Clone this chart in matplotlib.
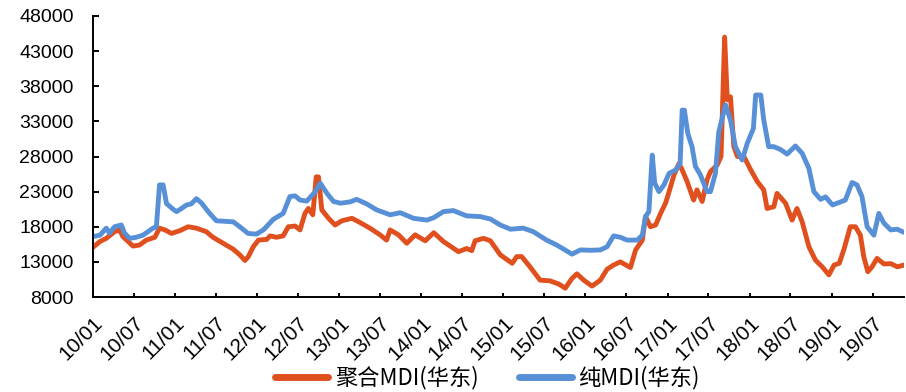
import pandas as pd
import matplotlib.pyplot as plt
import matplotlib.dates as mdates

plt.rcParams['font.family'] = ['Liberation Sans', 'Noto Sans CJK SC', 'DejaVu Sans']

# 聚合MDI(华东) 价格, 元/吨
poly_dates = [
    '2010-01-02', '2010-02-01', '2010-03-01', '2010-04-07', '2010-04-29', '2010-05-14',
    '2010-06-06', '2010-06-28', '2010-07-27', '2010-08-26', '2010-10-03', '2010-10-24',
    '2010-11-17', '2010-12-16', '2011-01-23', '2011-02-28', '2011-04-06', '2011-05-20',
    '2011-06-19', '2011-08-03', '2011-09-17', '2011-10-16', '2011-11-08', '2011-11-23',
    '2011-12-15', '2012-01-07', '2012-02-13', '2012-02-28', '2012-03-27', '2012-04-26',
    '2012-05-19', '2012-06-18', '2012-07-10', '2012-08-01', '2012-08-16', '2012-09-05',
    '2012-09-20', '2012-09-30', '2012-10-15', '2012-11-14', '2012-12-13', '2013-01-12',
    '2013-02-26', '2013-04-03', '2013-05-17', '2013-07-01', '2013-07-30', '2013-08-15',
    '2013-09-21', '2013-10-28', '2013-12-04', '2014-01-18', '2014-02-25', '2014-04-09',
    '2014-06-15', '2014-07-21', '2014-08-13', '2014-08-28', '2014-10-04', '2014-11-04',
    '2014-12-18', '2015-02-09', '2015-03-01', '2015-03-23', '2015-04-29', '2015-06-13',
    '2015-07-27', '2015-09-04', '2015-10-03', '2015-11-02', '2015-11-24', '2015-12-24',
    '2016-01-30', '2016-03-07', '2016-04-06', '2016-05-05', '2016-06-04', '2016-07-19',
    '2016-08-11', '2016-09-10', '2016-09-24', '2016-10-16', '2016-11-08', '2016-11-30',
    '2016-12-22', '2017-01-07', '2017-01-29', '2017-02-20', '2017-03-06', '2017-03-28',
    '2017-04-26', '2017-05-11', '2017-06-03', '2017-06-25', '2017-07-10', '2017-08-09',
    '2017-08-26', '2017-09-11', '2017-09-23', '2017-10-07', '2017-10-22', '2017-11-07',
    '2017-12-06', '2018-01-05', '2018-02-04', '2018-03-04', '2018-03-19', '2018-04-18',
    '2018-05-02', '2018-06-09', '2018-07-08', '2018-07-30', '2018-08-22', '2018-09-21',
    '2018-10-20', '2018-11-19', '2018-12-19', '2019-01-11', '2019-02-03', '2019-02-25',
    '2019-03-24', '2019-04-16', '2019-05-08', '2019-05-23', '2019-06-10', '2019-06-29',
    '2019-07-21', '2019-08-21', '2019-09-20', '2019-10-19', '2019-11-18',
]
poly_price = [
    15100, 15900, 16350, 17300, 17550, 16600,
    15900, 15250, 15400, 16100, 16500, 17800,
    17550, 17050, 17450, 18000, 17800, 17300,
    16500, 15650, 14800, 14000, 13200, 13750,
    15150, 16100, 16200, 16700, 16500, 16700,
    18000, 18100, 17550, 19900, 20600, 19700,
    25100, 25100, 20400, 19200, 18250, 18850,
    19200, 18600, 17800, 16850, 16100, 17550,
    16850, 15650, 16850, 16000, 17150, 15900,
    14450, 14900, 14600, 16000, 16350, 16000,
    14000, 12800, 13750, 13750, 12300, 10400,
    10300, 9850, 9250, 10650, 11300, 10400,
    9550, 10400, 11950, 12550, 13000, 12200,
    14700, 16100, 19450, 18000, 18250, 19900,
    21350, 23000, 25400, 27000, 26100, 24450,
    21800, 23250, 21600, 24700, 25850, 26800,
    28000, 45000, 36050, 36500, 29400, 28000,
    28000, 26100, 24400, 23250, 20600, 20850,
    22750, 21350, 18950, 20600, 18700, 15150,
    13250, 12300, 11150, 12550, 12800, 14900,
    18000, 18000, 16800, 13750, 11600, 12300,
    13500, 12700, 12750, 12300, 12550,
]

# 纯MDI(华东) 价格, 元/吨
pure_dates = [
    '2010-01-02', '2010-02-01', '2010-03-01', '2010-03-15', '2010-04-07', '2010-05-07',
    '2010-05-21', '2010-06-13', '2010-07-12', '2010-08-11', '2010-09-25', '2010-10-10',
    '2010-10-24', '2010-11-09', '2010-11-24', '2010-12-23', '2011-01-08', '2011-01-30',
    '2011-02-21', '2011-03-14', '2011-04-06', '2011-04-28', '2011-06-04', '2011-07-04',
    '2011-09-17', '2011-10-16', '2011-11-22', '2011-12-29', '2012-01-29', '2012-03-13',
    '2012-04-26', '2012-05-26', '2012-06-18', '2012-07-10', '2012-08-09', '2012-09-16',
    '2012-10-08', '2012-11-07', '2012-12-06', '2013-01-06', '2013-02-19', '2013-03-19',
    '2013-05-03', '2013-06-16', '2013-08-15', '2013-09-29', '2013-11-27', '2014-01-26',
    '2014-02-25', '2014-04-09', '2014-05-23', '2014-07-21', '2014-09-19', '2014-11-04',
    '2014-12-18', '2015-02-01', '2015-03-30', '2015-05-14', '2015-07-12', '2015-08-26',
    '2015-11-02', '2015-12-09', '2016-01-23', '2016-03-07', '2016-04-06', '2016-05-05',
    '2016-06-04', '2016-07-04', '2016-08-18', '2016-09-10', '2016-09-24', '2016-10-09',
    '2016-10-24', '2016-11-04', '2016-11-23', '2016-12-15', '2017-01-07', '2017-02-06',
    '2017-02-25', '2017-03-06', '2017-03-16', '2017-03-31', '2017-04-19', '2017-05-04',
    '2017-05-26', '2017-06-25', '2017-07-10', '2017-08-01', '2017-08-16', '2017-09-15',
    '2017-10-07', '2017-10-29', '2017-11-28', '2017-12-21', '2018-01-17', '2018-01-27',
    '2018-02-19', '2018-03-04', '2018-03-26', '2018-04-18', '2018-05-17', '2018-06-16',
    '2018-07-23', '2018-08-22', '2018-09-21', '2018-10-13', '2018-11-12', '2018-12-04',
    '2019-01-04', '2019-02-10', '2019-03-02', '2019-04-01', '2019-04-23', '2019-05-15',
    '2019-06-07', '2019-07-07', '2019-07-29', '2019-08-21', '2019-09-20', '2019-10-19',
    '2019-11-18',
]
pure_price = [
    16600, 16800, 17800, 17100, 18000, 18250,
    17100, 16350, 16500, 16800, 17800, 18000,
    23950, 23950, 21300, 20500, 20150, 20600,
    21100, 21250, 22000, 21400, 19900, 18850,
    18700, 18000, 17050, 16950, 17550, 19050,
    19900, 22300, 22400, 21800, 21650, 23000,
    24200, 22750, 21600, 21350, 21550, 21900,
    21250, 20400, 19700, 20000, 19200, 18950,
    19300, 20150, 20300, 19550, 19450, 19100,
    18250, 17650, 17800, 17300, 16100, 15400,
    14100, 14700, 14650, 14700, 15150, 16700,
    16500, 16100, 16100, 16800, 19450, 20150,
    28200, 24200, 23000, 23950, 25600, 26100,
    27000, 34600, 34600, 31300, 29400, 26600,
    25400, 23000, 23000, 25600, 31500, 35350,
    33200, 29400, 27500, 29900, 32000, 36750,
    36750, 33200, 29400, 29400, 29000, 28350,
    29500, 28450, 26300, 23000, 21900, 22250,
    21100, 21550, 21800, 24300, 23950, 22300,
    18000, 16800, 19900, 18500, 17550, 17650,
    17200,
]

y_ticks = list(range(8000, 48001, 5000))

fig = plt.figure(figsize=(9.06, 3.92), dpi=100)
ax = fig.add_axes([93 / 906, 95 / 392, 811 / 906, 281 / 392])

ax.plot(pd.to_datetime(poly_dates), poly_price, color='#E0501F', lw=3.5,
        solid_joinstyle='round', solid_capstyle='round', label='聚合MDI(华东)')
ax.plot(pd.to_datetime(pure_dates), pure_price, color='#5890D8', lw=3.5,
        solid_joinstyle='round', solid_capstyle='round', label='纯MDI(华东)')

ax.set_ylim(8000, 48000)
ax.set_yticks(y_ticks)
ax.set_xlim(pd.Timestamp('2010-01-01'), pd.Timestamp('2019-11-18'))
ax.xaxis.set_major_locator(mdates.MonthLocator(bymonth=[1, 7]))
ax.xaxis.set_major_formatter(mdates.DateFormatter('%y/%m'))

for s in ['top', 'right']:
    ax.spines[s].set_visible(False)
for s in ['left', 'bottom']:
    ax.spines[s].set_linewidth(1.4)
    ax.spines[s].set_color('black')

ax.tick_params(axis='y', direction='in', length=4.5, width=1.4, labelsize=14, pad=14)
ax.tick_params(axis='x', direction='in', length=3, width=1.4, labelsize=15, pad=12)
plt.setp(ax.get_xticklabels(), rotation=45, ha='right', rotation_mode='anchor')

# 图例放在图底部居中
leg = fig.legend(loc='center', bbox_to_anchor=(0.538, 0.036), ncol=2, frameon=False,
                 handlelength=2.4, handletextpad=0.3, columnspacing=1.8,
                 borderpad=0.1, prop={'family': ['Noto Sans CJK SC'], 'size': 16})
for h in leg.get_lines():
    h.set_linewidth(5)

fig.savefig('out.png', dpi=100)
